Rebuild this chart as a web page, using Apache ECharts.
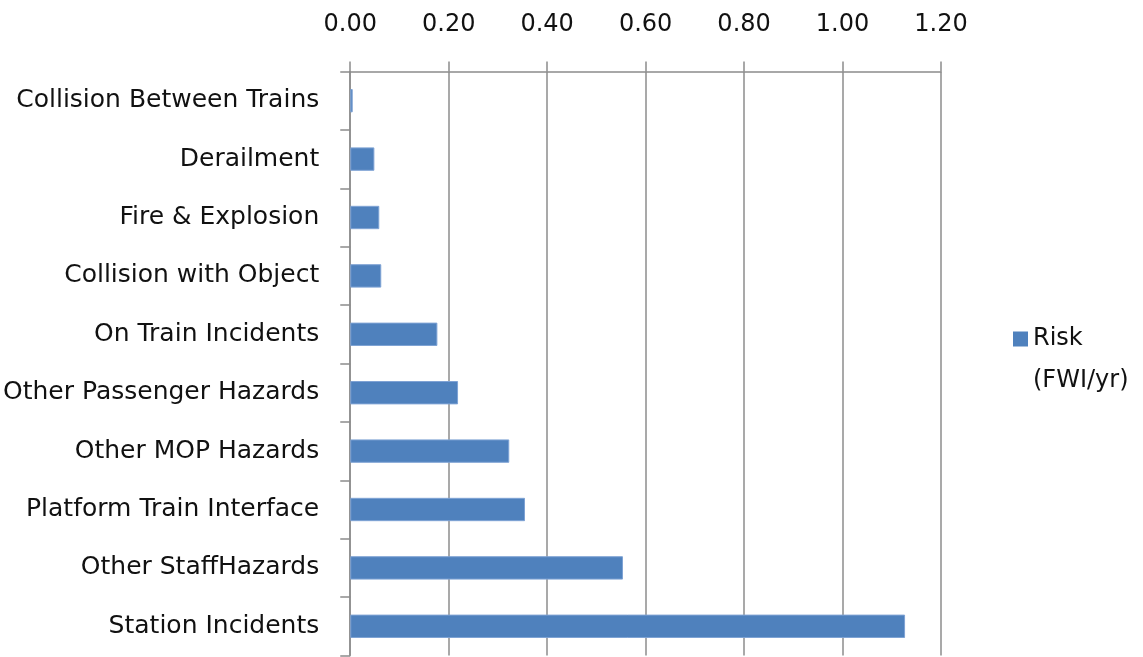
<!DOCTYPE html>
<html>
<head>
<meta charset="utf-8">
<script src="https://cdn.jsdelivr.net/npm/echarts@6/dist/echarts.min.js"></script>
<style>
html,body{margin:0;padding:0;background:#fff;}
#main{width:1143px;height:657px;}
</style>
</head>
<body>
<div id="main"></div>
<script>
var categories = ['Collision Between Trains','Derailment','Fire & Explosion','Collision with Object','On Train Incidents','Other Passenger Hazards','Other MOP Hazards','Platform Train Interface','Other StaffHazards','Station Incidents'];
var riskValues = [0.005, 0.049, 0.059, 0.063, 0.177, 0.219, 0.323, 0.355, 0.554, 1.127];
var seriesName = 'Risk (FWI/yr)';
var xTicks = {min: 0, max: 1.2, interval: 0.2};

var chart = echarts.init(document.getElementById('main'));
var font = 'DejaVu Sans';
chart.setOption({
  animation: false,
  backgroundColor: '#ffffff',
  grid: {left: 350, right: 202, top: 71.5, bottom: 1.5, containLabel: false},
  xAxis: {
    type: 'value', position: 'top',
    min: xTicks.min, max: xTicks.max, interval: xTicks.interval,
    axisLine: {show: true, lineStyle: {color: '#8c8c8c', width: 1.5}},
    axisTick: {show: true, length: 10, lineStyle: {color: '#8c8c8c', width: 1.5}},
    splitLine: {show: true, lineStyle: {color: '#8c8c8c', width: 1.5}},
    axisLabel: {fontFamily: font, fontSize: 24, color: '#111', margin: 35,
      formatter: function(v){ return v.toFixed(2); }}
  },
  yAxis: {
    type: 'category', inverse: true, data: categories,
    axisLine: {show: true, lineStyle: {color: '#8c8c8c', width: 1.5}},
    axisTick: {show: true, length: 10, alignWithLabel: false, lineStyle: {color: '#8c8c8c', width: 1.5}},
    axisLabel: {fontFamily: font, fontSize: 25, color: '#111', margin: 31, interval: 0}
  },
  legend: {
    show: true, orient: 'vertical', left: 1013, top: 276, padding: 0,
    itemWidth: 15, itemHeight: 15,
    icon: 'rect',
    itemStyle: {borderWidth: 0},
    data: [seriesName],
    formatter: function(n){ return '\nRisk\n(FWI/yr)'; },
    textStyle: {fontFamily: font, fontSize: 24, color: '#111', lineHeight: 42}
  },
  series: [{
    name: seriesName, type: 'bar', data: riskValues,
    barCategoryGap: '60%',
    itemStyle: {color: '#4f81bd', borderColor: '#7ea2d4', borderWidth: 1}
  }]
});
</script>
</body>
</html>
